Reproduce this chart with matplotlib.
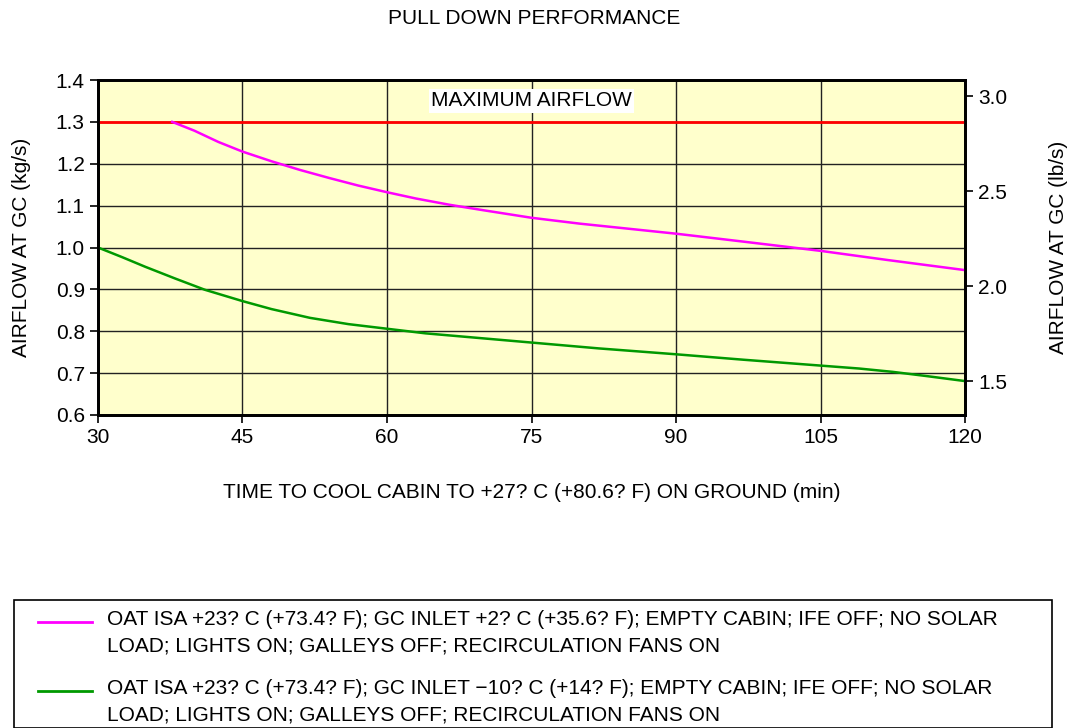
import matplotlib
matplotlib.use("Agg")
import matplotlib.pyplot as plt
from matplotlib.lines import Line2D
from matplotlib.patches import Rectangle

plt.rcParams['font.family'] = ['Liberation Sans', 'DejaVu Sans']

# Pull-down curves (time in min, airflow in kg/s)
t_inlet_plus2 = [37.7, 40, 42.5, 45, 48, 51, 54, 57, 60, 63, 66.5, 70, 75, 80, 85, 90, 97, 105, 112, 120]
flow_inlet_plus2 = [1.300, 1.279, 1.252, 1.229, 1.206, 1.185, 1.166, 1.148, 1.132, 1.117, 1.102, 1.089, 1.071, 1.057, 1.045, 1.033, 1.014, 0.992, 0.970, 0.946]

t_inlet_minus10 = [30, 32.5, 34.9, 38, 41.1, 45, 48, 52, 56, 60, 64, 67, 75, 82, 90, 97, 105, 109, 112.5, 116, 120]
flow_inlet_minus10 = [1.000, 0.977, 0.954, 0.926, 0.899, 0.872, 0.853, 0.832, 0.817, 0.806, 0.795, 0.789, 0.773, 0.759, 0.745, 0.732, 0.718, 0.711, 0.703, 0.693, 0.681]

max_airflow = 1.3
x_ticks = [30, 45, 60, 75, 90, 105, 120]
y_ticks = [0.6, 0.7, 0.8, 0.9, 1.0, 1.1, 1.2, 1.3, 1.4]
lb_ticks = [1.5, 2.0, 2.5, 3.0]
KG_TO_LB = 2.20462

legend_labels = [
    "OAT ISA +23? C (+73.4? F); GC INLET +2? C (+35.6? F); EMPTY CABIN; IFE OFF; NO SOLAR\nLOAD; LIGHTS ON; GALLEYS OFF; RECIRCULATION FANS ON",
    "OAT ISA +23? C (+73.4? F); GC INLET \u221210? C (+14? F); EMPTY CABIN; IFE OFF; NO SOLAR\nLOAD; LIGHTS ON; GALLEYS OFF; RECIRCULATION FANS ON",
]

FS = 15
W, H = 1068, 728
fig = plt.figure(figsize=(W / 100, H / 100), dpi=100)
ax = fig.add_axes([98 / W, 1 - 415 / H, (965 - 98) / W, (415 - 80) / H])
ax.set_facecolor('#FFFFCC')

ax.set_xlim(30, 120)
ax.set_ylim(0.6, 1.4)
ax.set_xticks(x_ticks)
ax.set_yticks(y_ticks)
ax.set_yticklabels([f"{v:.1f}" for v in y_ticks])
ax.grid(True, color='#222222', linewidth=1.0)
ax.set_axisbelow(True)
for s in ax.spines.values():
    s.set_linewidth(2)
ax.tick_params(axis='both', labelsize=FS, length=6, width=1.2, direction='out')

ax.axhline(max_airflow, color='#FF0000', linewidth=2, zorder=3)
ax.plot(t_inlet_plus2, flow_inlet_plus2, color='#FF00FF', linewidth=1.8, zorder=3)
ax.plot(t_inlet_minus10, flow_inlet_minus10, color='#009900', linewidth=1.8, zorder=3)

ax.text(75, 1.35, "MAXIMUM AIRFLOW", ha='center', va='center', fontsize=FS,
        bbox=dict(facecolor='white', edgecolor='none', pad=1.5), zorder=4)

ax.set_ylabel("AIRFLOW AT GC (kg/s)", fontsize=FS, labelpad=18)
ax.set_xlabel("TIME TO COOL CABIN TO +27? C (+80.6? F) ON GROUND (min)", fontsize=FS, labelpad=26)

ax2 = ax.twinx()
ax2.set_ylim(0.6 * KG_TO_LB, 1.4 * KG_TO_LB)
ax2.set_yticks(lb_ticks)
ax2.set_yticklabels([f"{v:.1f}" for v in lb_ticks])
ax2.tick_params(axis='y', labelsize=FS, length=6, width=1.2, direction='out')
ax2.set_ylabel("AIRFLOW AT GC (lb/s)", fontsize=FS, labelpad=30)
for s in ax2.spines.values():
    s.set_linewidth(2)

fig.text(0.5, 1 - 18 / H, "PULL DOWN PERFORMANCE", ha='center', va='center', fontsize=FS)

# Legend box
fig.add_artist(Rectangle((14 / W, 0), (1052 - 14) / W, 1 - 600 / H, transform=fig.transFigure,
                         facecolor='white', edgecolor='black', linewidth=1.2))
for color, label, ytop in [('#FF00FF', legend_labels[0], 622), ('#009900', legend_labels[1], 691)]:
    fig.add_artist(Line2D([38 / W, 92 / W], [1 - ytop / H, 1 - ytop / H], transform=fig.transFigure,
                          color=color, linewidth=2))
    fig.text(107 / W, 1 - (ytop - 12) / H, label, ha='left', va='top', fontsize=FS, linespacing=1.5)

fig.savefig("out.png", dpi=100)
